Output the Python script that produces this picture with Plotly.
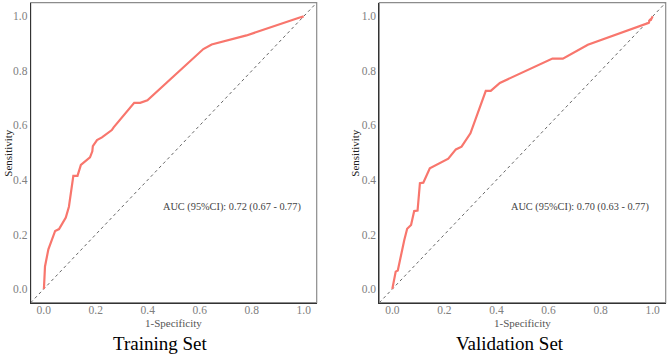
import plotly.graph_objects as go

# ---- data ----
train_fpr = [0.0, 0.001, 0.005, 0.018, 0.044, 0.059, 0.085, 0.097, 0.114, 0.130, 0.143, 0.178,
             0.187, 0.189, 0.205, 0.224, 0.262, 0.269, 0.348, 0.371, 0.399, 0.614, 0.646,
             0.761, 0.780, 0.982, 0.997, 1.0]
train_tpr = [0.0, 0.004, 0.083, 0.146, 0.213, 0.220, 0.262, 0.302, 0.415, 0.415, 0.455, 0.483,
             0.505, 0.524, 0.546, 0.556, 0.583, 0.593, 0.683, 0.683, 0.692, 0.880, 0.897,
             0.924, 0.930, 0.995, 0.997, 1.0]

valid_fpr = [0.0, 0.008, 0.013, 0.021, 0.036, 0.046, 0.057, 0.072, 0.084, 0.097, 0.106, 0.119,
             0.144, 0.215, 0.244, 0.266, 0.300, 0.359, 0.378, 0.413, 0.615, 0.655, 0.751,
             0.985, 0.990, 0.992, 1.0]
valid_tpr = [0.0, 0.040, 0.064, 0.068, 0.138, 0.180, 0.221, 0.235, 0.286, 0.288, 0.388, 0.390,
             0.443, 0.478, 0.512, 0.522, 0.571, 0.727, 0.727, 0.756, 0.845, 0.845, 0.896,
             0.976, 0.990, 0.985, 1.0]

titles = ["Training Set", "Validation Set"]
auc_labels = ["AUC (95%CI): 0.72 (0.67 - 0.77)", "AUC (95%CI): 0.70 (0.63 - 0.77)"]
tick_vals = [0.0, 0.2, 0.4, 0.6, 0.8, 1.0]
tick_text = ["0.0", "0.2", "0.4", "0.6", "0.8", "1.0"]
axis_range = [-0.05, 1.05]

W, H = 669, 356
x_domains = [[30.7 / W, 316.7 / W], [379.3 / W, 665.7 / W]]
y_domain = [(H - 302.7) / H, (H - 2.7) / H]
title_x = [160.5 / W, 510.0 / W]
ytitle_x = [8.0 / W, 355.0 / W]

RED = "#F8766D"
SERIF = "Liberation Serif, Times New Roman, serif"
TICKFONT = dict(family=SERIF, size=11.5, color="#808080")

fig = go.Figure()
series = [(train_fpr, train_tpr), (valid_fpr, valid_tpr)]

layout = dict(
    width=W, height=H, margin=dict(l=0, r=0, t=0, b=0),
    paper_bgcolor="white", plot_bgcolor="white", showlegend=False,
)
shapes = []
annotations = []
for i, (fx, ty) in enumerate(series):
    xa = "x" if i == 0 else "x2"
    ya = "y" if i == 0 else "y2"
    xkey = "xaxis" if i == 0 else "xaxis2"
    ykey = "yaxis" if i == 0 else "yaxis2"
    # diagonal reference line
    fig.add_trace(go.Scatter(x=axis_range, y=axis_range, mode="lines",
                             line=dict(color="#666666", width=1, dash="dot"),
                             xaxis=xa, yaxis=ya, hoverinfo="skip"))
    fig.add_trace(go.Scatter(x=fx, y=ty, mode="lines",
                             line=dict(color=RED, width=2.2),
                             xaxis=xa, yaxis=ya))
    layout[xkey] = dict(domain=x_domains[i], range=axis_range, anchor=ya,
                        tickvals=tick_vals, ticktext=tick_text, tickfont=TICKFONT,
                        showgrid=False, zeroline=False, showline=True, linecolor="#333333",
                        linewidth=1, ticks="", ticklabelstandoff=-4)
    layout[ykey] = dict(domain=y_domain, range=axis_range, anchor=xa,
                        tickvals=tick_vals, ticktext=tick_text, tickfont=TICKFONT,
                        showgrid=False, zeroline=False, showline=True, linecolor="#333333",
                        linewidth=1, ticks="")
    shapes.append(dict(type="rect", xref=f"{xa} domain", yref=f"{ya} domain",
                       x0=0, x1=1, y0=0, y1=1, line=dict(color="#8c8c8c", width=1.2),
                       layer="below"))
    annotations.append(dict(x=0.45, y=0.30, xref=xa, yref=ya, text=auc_labels[i],
                            showarrow=False, xanchor="left", yanchor="middle",
                            font=dict(family=SERIF, size=10.3, color="#444444")))
    annotations.append(dict(x=sum(x_domains[i]) / 2, y=(H - 322.5) / H, xref="paper", yref="paper",
                            text="1-Specificity", showarrow=False, xanchor="center", yanchor="middle",
                            font=dict(family=SERIF, size=11, color="#555555")))
    annotations.append(dict(x=ytitle_x[i], y=sum(y_domain) / 2, xref="paper", yref="paper",
                            text="Sensitivity", showarrow=False, textangle=-90,
                            xanchor="center", yanchor="middle",
                            font=dict(family=SERIF, size=11, color="#222222")))
    annotations.append(dict(x=title_x[i], y=(H - 343) / H, xref="paper", yref="paper",
                            text=titles[i], showarrow=False, xanchor="center", yanchor="middle",
                            font=dict(family=SERIF, size=19, color="black")))

layout["shapes"] = shapes
layout["annotations"] = annotations
fig.update_layout(**layout)
fig.write_html("out.html")
